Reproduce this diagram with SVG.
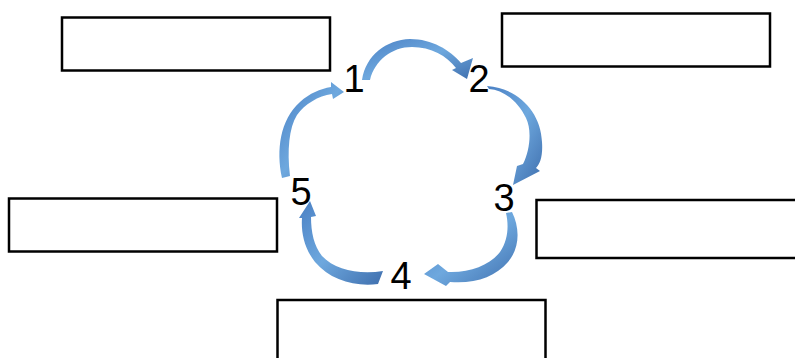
<svg xmlns="http://www.w3.org/2000/svg" width="795" height="358" viewBox="0 0 795 358">
<style>
.box{fill:#fff;stroke:#000;stroke-width:2.5}
.num{font-family:"Liberation Sans",Arial,sans-serif;font-size:38px;fill:#000;text-anchor:middle}
.arr{fill:url(#g)}
</style>
<defs>
<linearGradient id="g" x1="0" y1="0" x2="1" y2="1">
<stop offset="0" stop-color="#4a80c4"/>
<stop offset="0.5" stop-color="#6ea8de"/>
<stop offset="1" stop-color="#3f6fae"/>
</linearGradient>
</defs>
<rect width="795" height="358" fill="#fff"/>
<g id="box-top-left"><rect class="box" x="62" y="17.5" width="268" height="53"/></g>
<g id="box-top-right"><rect class="box" x="502" y="13.5" width="268" height="53"/></g>
<g id="box-left"><rect class="box" x="9" y="198.5" width="268" height="53"/></g>
<g id="box-right"><rect class="box" x="536.5" y="200" width="262" height="58"/></g>
<g id="box-bottom"><rect class="box" x="277.5" y="300" width="268" height="60"/></g>
<g id="connectors">
<path class="arr" d="M362,80 C366,55 386,40 410,39 C432,39 450,50 461,63 L473,58 L467,79 L452,70 L456,68 C447,56 431,47 412,47 C392,47 375,60 370,80 Z"/>
<path class="arr" d="M487,86 C518,88 541,112 542,142 C543,156 540,164 536,168 L540,171 L513,185 L517,166 L523,164 C530,150 532,130 526,118 C517,100 503,90 489,89 Z"/>
<path class="arr" d="M512,212 C520,228 520,248 508,262 C495,277 475,284 450,282 L446,286 L424,274 L438,264 L448,272 C470,273 490,265 500,252 C508,240 509,226 506,213 Z"/>
<path class="arr" d="M383,271 L378,284 C355,287 330,280 315,262 C304,248 301,232 302,218 L299,218 L310,201 L316,216 L311,217 C311,232 314,246 322,256 C335,270 360,275 383,271 Z"/>
<path class="arr" d="M282,178 C276,150 280,120 300,102 C310,93 320,89 331,87 L331,82 L344,92 L333,99 L332,94 C318,96 305,104 297,115 C289,128 287,150 290,176 Z"/>
</g>
<g id="labels">
<text class="num" x="354" y="92">1</text>
<text class="num" x="479" y="92">2</text>
<text class="num" x="504" y="211">3</text>
<text class="num" x="401" y="289">4</text>
<text class="num" x="301" y="205">5</text>
</g>
</svg>
